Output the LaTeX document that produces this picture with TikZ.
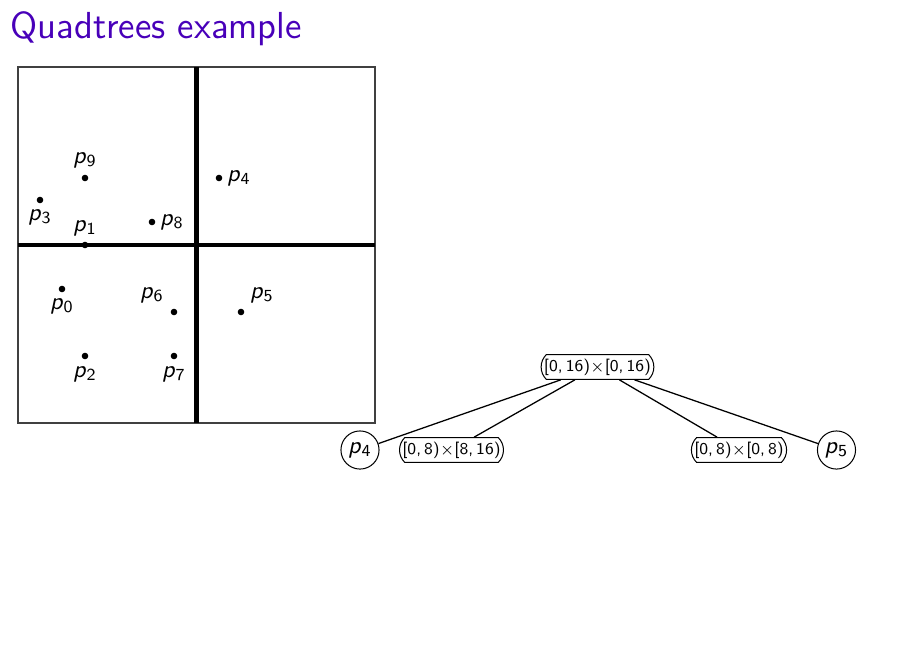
\documentclass[tikz,border=0pt]{standalone}
\usetikzlibrary{shapes.misc}
\definecolor{titlecol}{RGB}{72,0,185}
\newcommand{\pl}[1]{\textsl{p}\textsubscript{#1}}
\newcommand{\iv}[2]{[#1,\kern1.2pt#2)}
\begin{document}
\begin{tikzpicture}[x=0.3935pt,y=-0.3935pt,
  font=\sffamily,
  dot/.style={circle,fill=black,inner sep=0pt,minimum size=2.6pt},
  lbl/.style={font=\sffamily\fontsize{9.5}{11}\selectfont,inner sep=1pt},
  tnode/.style={draw,rounded rectangle,rounded rectangle arc length=90,inner xsep=0.3pt,inner ysep=1.6pt,font=\sffamily\fontsize{6.5}{8}\selectfont},
  cnode/.style={draw,circle,minimum size=15pt,inner sep=0pt,font=\sffamily\fontsize{9.5}{11}\selectfont},
  edge/.style={draw,line width=0.5pt}]
\useasboundingbox (0,0) rectangle (922,671);
\node[anchor=west,text=titlecol,font=\sffamily\fontsize{14.8}{17}\selectfont,inner sep=0pt] (title) at (10,29) {Quadtrees example};
% square
\draw[line width=0.6pt,black!75] (18,67) rectangle (375,423);
\draw[ultra thick] (196.5,67) -- (196.5,423);
\draw[ultra thick] (18,245) -- (375,245);
% points
\node[dot] (d9) at (85,178) {}; \node[lbl] (l9) at (85,160) {\pl{9}};
\node[dot] (d4) at (219,178) {}; \node[lbl] (l4) at (239,178) {\pl{4}};
\node[dot] (d3) at (40,200) {}; \node[lbl] (l3) at (40,217) {\pl{3}};
\node[dot] (d8) at (152,222) {}; \node[lbl] (l8) at (172,222) {\pl{8}};
\node[dot] (d1) at (85,245) {}; \node[lbl] (l1) at (85,228) {\pl{1}};
\node[dot] (d0) at (62,289) {}; \node[lbl] (l0) at (62,306) {\pl{0}};
\node[dot] (d6) at (174,312) {}; \node[lbl] (l6) at (152,295) {\pl{6}};
\node[dot] (d5) at (241,312) {}; \node[lbl] (l5) at (262,295) {\pl{5}};
\node[dot] (d2) at (85,356) {}; \node[lbl] (l2) at (85,374) {\pl{2}};
\node[dot] (d7) at (174,356) {}; \node[lbl] (l7) at (174,374) {\pl{7}};
% tree
\node[tnode] (root) at (597.5,367) {\iv{0}{16}$\times$\iv{0}{16}};
\node[cnode] (c1) at (360,450) {\pl{4}};
\node[tnode] (c2) at (451.5,450) {\iv{0}{8}$\times$\iv{8}{16}};
\node[tnode] (c3) at (739,450) {\iv{0}{8}$\times$\iv{0}{8}};
\node[cnode] (c4) at (836.5,450) {\pl{5}};
\path[edge] (root) -- (c1);
\path[edge] (root) -- (c2);
\path[edge] (root) -- (c3);
\path[edge] (root) -- (c4);
\end{tikzpicture}
\end{document}
